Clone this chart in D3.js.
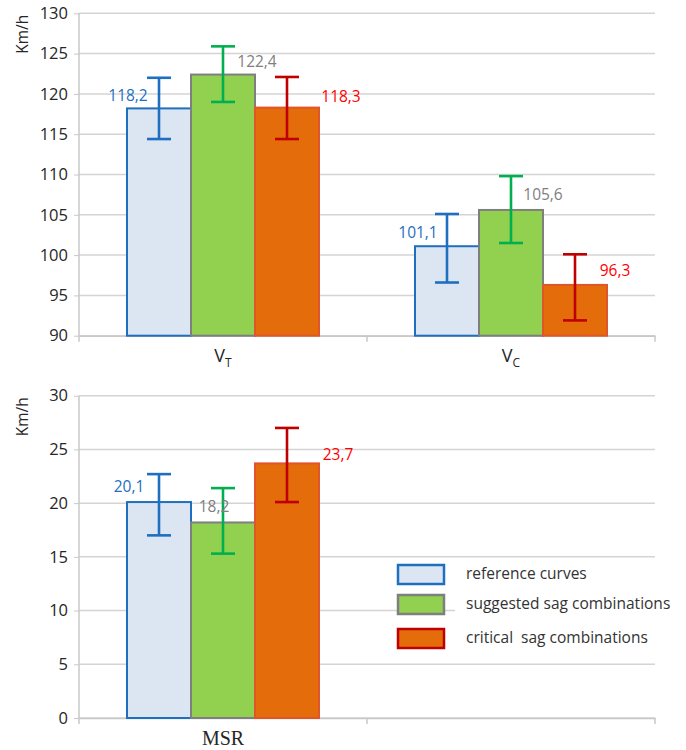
<!DOCTYPE html>
<html>
<head>
<meta charset="utf-8">
<script src="https://cdn.jsdelivr.net/npm/d3@7"></script>
<style>
  body { margin: 0; background: #fff; }
  text { font-family: "Open Sans", "Noto Sans", sans-serif; }
</style>
</head>
<body>
<svg id="chart" width="686" height="750"></svg>
<script>
// data
var seriesNames = ["reference curves", "suggested sag combinations", "critical  sag combinations"];

var topCategories = ["VT", "VC"];
var topValues = [[118.2, 101.1], [122.4, 105.6], [118.3, 96.3]];
var topErrLow = [[114.4, 96.6], [119.0, 101.5], [114.4, 91.9]];
var topErrHigh = [[122.0, 105.1], [125.9, 109.8], [122.1, 100.1]];
var topLabels = [["118,2", "101,1"], ["122,4", "105,6"], ["118,3", "96,3"]];
var topTicks = [90, 95, 100, 105, 110, 115, 120, 125, 130];

var botCategories = ["MSR", ""];
var botValues = [[20.1], [18.2], [23.7]];
var botErrLow = [[17.0], [15.3], [20.1]];
var botErrHigh = [[22.7], [21.4], [27.0]];
var botLabels = [["20,1"], ["18,2"], ["23,7"]];
var botTicks = [0, 5, 10, 15, 20, 25, 30];

// styles
var fills = ["#dce6f2", "#92d050", "#e46c0a"];
var strokes = ["#1f6fc0", "#7f7f7f", "#e0562a"];
var errColors = ["#1f6fc0", "#00b050", "#c00000"];
var labelColors = ["#1f6fc0", "#7f7f7f", "#ff0000"];
var legendStrokes = ["#1f6fc0", "#7f7f7f", "#c00000"];

var svg = d3.select("#chart");
var left = 79, right = 655;

function drawPanel(opt) {
    var g = svg.append("g");

    var x = d3.scaleBand().domain(opt.categories).range([left, right]);
    var xs = d3.scaleBand().domain(d3.range(seriesNames.length))
        .range([0, x.bandwidth()]).paddingOuter(0.75);
    var y = d3.scaleLinear().domain(opt.domain).range([opt.bottom, opt.top]);

    // gridlines
    g.selectAll(".grid").data(opt.ticks).enter().append("line")
        .attr("x1", left).attr("x2", right)
        .attr("y1", function (d) { return y(d); })
        .attr("y2", function (d) { return y(d); })
        .attr("stroke", "#d4d4d4").attr("stroke-width", 1.5);

    // left axis line + labels
    g.append("line").attr("x1", left).attr("x2", left)
        .attr("y1", opt.top).attr("y2", opt.bottom)
        .attr("stroke", "#c8c8c8").attr("stroke-width", 1.5);

    var yAxis = g.append("g")
        .attr("transform", "translate(" + left + ",0)")
        .call(d3.axisLeft(y).tickValues(opt.ticks).tickSize(5).tickPadding(6));
    yAxis.select(".domain").remove();
    yAxis.selectAll("line").attr("stroke", "#c8c8c8");
    yAxis.selectAll("text").attr("font-size", 16.5).attr("fill", "#262626")
        .style("font-family", "'Open Sans', sans-serif");

    // bottom axis ticks
    var xAxis = g.append("g")
        .attr("transform", "translate(0," + opt.bottom + ")")
        .call(d3.axisBottom(x).tickSize(0).tickFormat(""));
    xAxis.select(".domain").attr("stroke", "#c8c8c8").attr("stroke-width", 1.5);
    g.selectAll(".xtick").data(d3.range(opt.categories.length + 1)).enter().append("line")
        .attr("x1", function (i) { return left + i * x.step(); })
        .attr("x2", function (i) { return left + i * x.step(); })
        .attr("y1", opt.bottom).attr("y2", opt.bottom + 6)
        .attr("stroke", "#c8c8c8").attr("stroke-width", 1.5);

    // Km/h
    g.append("text")
        .attr("transform", "translate(28," + (opt.top + 21) + ") rotate(-90)")
        .attr("text-anchor", "middle")
        .attr("font-size", 15.5).attr("fill", "#262626")
        .text("Km/h");

    if (opt.legendMask) {
        g.append("rect").attr("x", 455).attr("y", 592).attr("width", 205).attr("height", 30)
            .attr("fill", "#fff");
    }

    seriesNames.forEach(function (name, s) {
        opt.values[s].forEach(function (v, c) {
            var cat = opt.categories[c];
            var bx = x(cat) + xs(s);
            var cx = bx + xs.bandwidth() / 2;
            g.append("rect")
                .attr("x", bx).attr("y", y(v))
                .attr("width", xs.bandwidth()).attr("height", opt.bottom - y(v))
                .attr("fill", fills[s]).attr("stroke", strokes[s]).attr("stroke-width", 2);

            // error bar
            var lo = y(opt.errLow[s][c]), hi = y(opt.errHigh[s][c]);
            var eg = g.append("g").attr("stroke", errColors[s]).attr("stroke-width", 2.6);
            eg.append("line").attr("x1", cx).attr("x2", cx).attr("y1", lo).attr("y2", hi);
            eg.append("line").attr("x1", cx - 12).attr("x2", cx + 12).attr("y1", lo).attr("y2", lo);
            eg.append("line").attr("x1", cx - 12).attr("x2", cx + 12).attr("y1", hi).attr("y2", hi);

            var off = opt.labelOffsets[s][c];
            g.append("text")
                .attr("x", cx + off[0]).attr("y", y(v) + off[1])
                .attr("text-anchor", "middle").attr("dominant-baseline", "middle")
                .attr("font-size", 15.5).attr("fill", labelColors[s])
                .text(opt.labels[s][c]);
        });
    });

    return {x: x, g: g};
}

// top panel
var topPanel = drawPanel({
    categories: topCategories, values: topValues, errLow: topErrLow, errHigh: topErrHigh,
    labels: topLabels, ticks: topTicks, domain: [90, 130], top: 13.3, bottom: 335.7,
    labelOffsets: [[[-31, -12], [-29, -12]], [[34, -12], [32, -14]], [[54, -10], [40, -13]]]
});

// category labels with subscripts
topCategories.forEach(function (c) {
    var t = topPanel.g.append("text")
        .attr("x", topPanel.x(c) + topPanel.x.bandwidth() / 2)
        .attr("y", 362)
        .attr("text-anchor", "middle")
        .attr("font-size", 18).attr("fill", "#262626");
    t.append("tspan").text(c.charAt(0));
    t.append("tspan").attr("font-size", 12).attr("dy", 5).text(c.slice(1));
});

// bottom panel
var botPanel = drawPanel({
    categories: botCategories, values: botValues, errLow: botErrLow, errHigh: botErrHigh,
    labels: botLabels, ticks: botTicks, domain: [0, 30], top: 395.7, bottom: 718,
    labelOffsets: [[[-30, -14]], [[-9, -15]], [[51, -8]]], legendMask: true
});

botCategories.forEach(function (c) {
    botPanel.g.append("text")
        .attr("x", botPanel.x(c) + botPanel.x.bandwidth() / 2)
        .attr("y", 745)
        .attr("text-anchor", "middle")
        .attr("font-size", 20).attr("fill", "#262626")
        .style("font-family", "'Liberation Serif', 'DejaVu Serif', serif")
        .text(c);
});

// legend
var legendY = [565, 595, 629];
var legend = svg.append("g");
seriesNames.forEach(function (name, s) {
    legend.append("rect")
        .attr("x", 398).attr("y", legendY[s]).attr("width", 46).attr("height", 19)
        .attr("fill", fills[s]).attr("stroke", legendStrokes[s]).attr("stroke-width", 2.5);
    legend.append("text")
        .attr("x", 466).attr("y", legendY[s] + 10)
        .attr("dominant-baseline", "middle")
        .attr("font-size", 15.5).attr("fill", "#333")
        .style("white-space", "pre")
        .text(name);
});
</script>
</body>
</html>
